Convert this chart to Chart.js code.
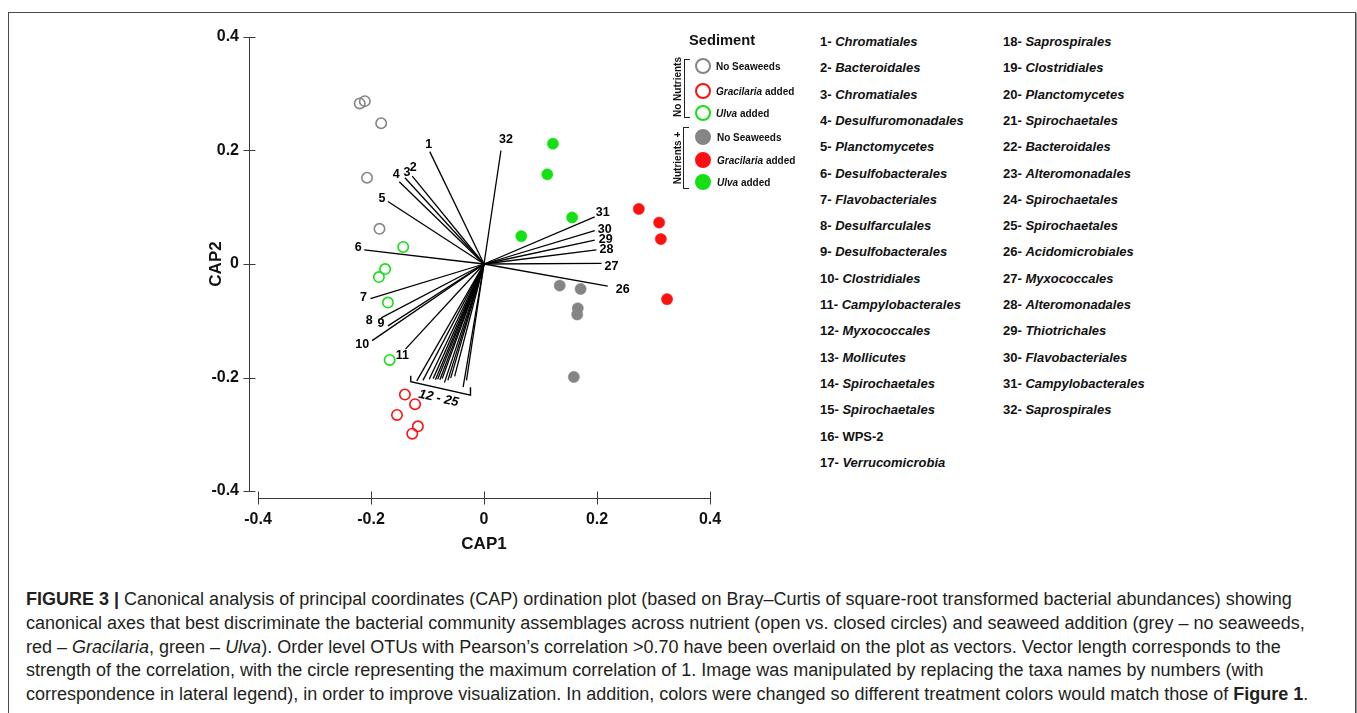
<!DOCTYPE html>
<html>
<head>
<meta charset="utf-8">
<script src="https://cdn.jsdelivr.net/npm/chart.js@4/dist/chart.umd.min.js"></script>
<style>
html,body{margin:0;padding:0;background:#fff;width:1357px;height:713px;overflow:hidden;font-family:"Liberation Sans",Arial,sans-serif;color:#111;}
#frame{position:absolute;left:8px;top:12px;width:1346px;height:800px;border:1px solid #4a4a4a;box-shadow:1px 1px 1px #999;}
#wrap{position:absolute;left:0;top:0;width:780px;height:560px;}
.abs{position:absolute;white-space:nowrap;}
.vc{transform:translateY(-50%);}
.taxa{font-weight:bold;font-size:13px;}
.taxa i{font-style:italic;}
.leg{font-weight:bold;font-size:10px;}
.circ{position:absolute;width:12px;height:12px;border-radius:50%;border:2px solid;transform:translate(-50%,-50%);}
.cap{font-size:18px;color:#231f20;left:26px;}
.brk{position:absolute;border:1.5px solid #222;border-right:none;width:5px;}
</style>
</head>
<body>
<div id="frame"></div>
<div id="wrap"><canvas id="c" width="780" height="560"></canvas></div>
<div id="legend"></div>
<div id="taxa"></div>
<div id="caption"></div>
<script>
// ---------- DATA ----------
const xTicks = [-0.4, -0.2, 0, 0.2, 0.4];
const yTicks = [-0.4, -0.2, 0, 0.2, 0.4];

// sample scores [CAP1, CAP2]
const noNutNoSeaweed = [[-0.220,0.283],[-0.211,0.287],[-0.182,0.248],[-0.207,0.152],[-0.185,0.062]];
const noNutGracilaria = [[-0.140,-0.230],[-0.122,-0.247],[-0.154,-0.266],[-0.117,-0.286],[-0.127,-0.299]];
const noNutUlva = [[-0.143,0.030],[-0.175,-0.009],[-0.186,-0.023],[-0.170,-0.068],[-0.167,-0.169]];
const nutNoSeaweed = [[0.134,-0.038],[0.171,-0.044],[0.166,-0.078],[0.165,-0.089],[0.159,-0.199]];
const nutGracilaria = [[0.274,0.097],[0.310,0.073],[0.313,0.044],[0.324,-0.062]];
const nutUlva = [[0.122,0.212],[0.112,0.158],[0.156,0.082],[0.066,0.049]];

// vectors (taxa correlations)
const vectorIds = ['1','2','3','4','5','6','7','8','9','10','11','12','13','14','15','16','17','18','19','20','21','22','23','24','25','26','27','28','29','30','31','32'];
const vectorX = [-0.096,-0.127,-0.140,-0.150,-0.170,-0.212,-0.201,-0.182,-0.170,-0.198,-0.139,-0.119,-0.108,-0.097,-0.090,-0.086,-0.082,-0.078,-0.074,-0.070,-0.064,-0.059,-0.052,-0.037,-0.031,0.219,0.208,0.199,0.196,0.196,0.196,0.030];
const vectorY = [0.198,0.155,0.152,0.145,0.110,0.025,-0.061,-0.095,-0.109,-0.135,-0.150,-0.206,-0.205,-0.203,-0.202,-0.204,-0.203,-0.204,-0.202,-0.209,-0.205,-0.201,-0.198,-0.217,-0.205,-0.039,0.001,0.025,0.042,0.059,0.083,0.200];
const groupedLabel = '12 - 25';
const groupedFrom = 12, groupedTo = 25;

const taxaNames = ['Chromatiales','Bacteroidales','Chromatiales','Desulfuromonadales','Planctomycetes','Desulfobacterales','Flavobacteriales','Desulfarculales','Desulfobacterales','Clostridiales','Campylobacterales','Myxococcales','Mollicutes','Spirochaetales','Spirochaetales','WPS-2','Verrucomicrobia','Saprospirales','Clostridiales','Planctomycetes','Spirochaetales','Bacteroidales','Alteromonadales','Spirochaetales','Spirochaetales','Acidomicrobiales','Myxococcales','Alteromonadales','Thiotrichales','Flavobacteriales','Campylobacterales','Saprospirales'];
const uprightNames = ['WPS-2'];

const legendGroups = ['No Nutrients', 'Nutrients +'];
const legendItems = [['No Seaweeds',''],['Gracilaria',' added'],['Ulva',' added'],['No Seaweeds',''],['Gracilaria',' added'],['Ulva',' added']];

// ---------- STYLE (not data) ----------
const GREY = '#858585', RED = '#ff1010', GREEN = '#14e014';
const labelNudge = {1:[-1,-7],2:[1,-8],3:[2,-5],4:[-3,-7],5:[-6,-3],6:[-6,-2],7:[-7,-1],8:[-12,3],9:[-7,-2],10:[-10,4],11:[-3,6],26:[15,3],27:[10,3],28:[10,0],29:[11,-1],30:[10,-1],31:[8,-4],32:[5,-11]};
const FONT = '"Liberation Sans", Arial, sans-serif';

const toPts = arr => arr.map(p => ({x: p[0], y: p[1]}));
function pointSet(label, arr, color, filled) {
  return {type:'scatter', label, data: toPts(arr), order: 0,
    pointRadius: filled ? 5.6 : 5.2, pointHoverRadius: 5.6,
    pointBackgroundColor: filled ? color : 'rgba(255,255,255,0)',
    pointBorderColor: color, pointBorderWidth: filled ? 0.5 : 1.6};
}
const datasets = [
  pointSet('No Nutrients – No Seaweeds', noNutNoSeaweed, GREY, false),
  pointSet('No Nutrients – Gracilaria added', noNutGracilaria, RED, false),
  pointSet('No Nutrients – Ulva added', noNutUlva, GREEN, false),
  pointSet('Nutrients + – No Seaweeds', nutNoSeaweed, GREY, true),
  pointSet('Nutrients + – Gracilaria added', nutGracilaria, RED, true),
  pointSet('Nutrients + – Ulva added', nutUlva, GREEN, true)
];
vectorIds.forEach((id, i) => {
  datasets.push({type:'line', label:'vector ' + id, order: 1,
    data: [{x:0, y:0}, {x: vectorX[i], y: vectorY[i]}],
    borderColor:'#000', borderWidth:1.3, pointRadius:0, fill:false, tension:0});
});

const decor = {
  id: 'decor',
  afterDraw(chart) {
    const {ctx, chartArea: ca, scales: {x, y}} = chart;
    ctx.save();
    ctx.strokeStyle = '#3a3a3a'; ctx.lineWidth = 1;
    ctx.beginPath();
    const ax = Math.round(ca.left - 9) + 0.5;
    ctx.moveTo(ax, y.getPixelForValue(yTicks[yTicks.length - 1]));
    ctx.lineTo(ax, y.getPixelForValue(yTicks[0]));
    yTicks.forEach(v => { const p = Math.round(y.getPixelForValue(v)) + 0.5; ctx.moveTo(ax - 6, p); ctx.lineTo(ax + 6, p); });
    const ay = Math.round(ca.bottom + 7) + 0.5;
    ctx.moveTo(x.getPixelForValue(xTicks[0]), ay);
    ctx.lineTo(x.getPixelForValue(xTicks[xTicks.length - 1]), ay);
    xTicks.forEach(v => { const p = Math.round(x.getPixelForValue(v)) + 0.5; ctx.moveTo(p, ay - 7); ctx.lineTo(p, ay + 6); });
    ctx.stroke();

    // vector labels
    ctx.fillStyle = '#000';
    ctx.font = 'bold 12.5px ' + FONT;
    ctx.textAlign = 'center'; ctx.textBaseline = 'middle';
    vectorIds.forEach((id, i) => {
      const n = i + 1;
      if (n >= groupedFrom && n <= groupedTo) return;
      const nd = labelNudge[id] || [0, 0];
      ctx.fillText(id, x.getPixelForValue(vectorX[i]) + nd[0], y.getPixelForValue(vectorY[i]) + nd[1]);
    });

    // bracket for grouped vectors 12-25
    const gi = [];
    for (let n = groupedFrom; n <= groupedTo; n++) gi.push(n - 1);
    const ex = gi.map(i => x.getPixelForValue(vectorX[i]));
    const eyy = gi.map(i => y.getPixelForValue(vectorY[i]));
    const x0 = Math.min(...ex) - 6, x1 = Math.max(...ex) + 4;
    const y0 = Math.max(...eyy) - 5.5, y1 = y0 + 13.5;
    ctx.strokeStyle = '#000'; ctx.lineWidth = 1.4;
    ctx.beginPath();
    ctx.moveTo(x0, y0 - 6); ctx.lineTo(x0, y0); ctx.lineTo(x1, y1); ctx.lineTo(x1, y1 - 8);
    ctx.stroke();
    const ang = Math.atan2(y1 - y0, x1 - x0);
    ctx.save();
    ctx.translate((x0 + x1) / 2 - 2, (y0 + y1) / 2 + 10);
    ctx.rotate(ang);
    ctx.font = 'italic bold 13px ' + FONT;
    ctx.fillText(groupedLabel, 0, 0);
    ctx.restore();
    ctx.restore();
  }
};

const tickFont = {family: FONT, size: 16, weight: 'bold'};
const fmt = v => (Math.abs(v) < 1e-9 ? '0' : Number(v).toFixed(1));

new Chart(document.getElementById('c'), {
  data: {datasets},
  options: {
    responsive: false, animation: false, devicePixelRatio: 1,
    layout: {padding: {left: 0, top: 37, right: 70, bottom: 0}},
    plugins: {legend: {display: false}, tooltip: {enabled: false}},
    scales: {
      x: {type: 'linear', min: xTicks[0], max: xTicks[xTicks.length - 1],
        afterBuildTicks: s => { s.ticks = xTicks.map(v => ({value: v})); },
        afterFit: s => { s.height = 69; },
        grid: {display: false, drawTicks: false}, border: {display: false},
        ticks: {callback: fmt, font: tickFont, color: '#111', padding: 19, maxRotation: 0, autoSkip: false},
        title: {display: true, text: 'CAP1', color: '#111', font: {family: FONT, size: 17, weight: 'bold'}, padding: {top: 0, bottom: 5}}},
      y: {type: 'linear', min: yTicks[0], max: yTicks[yTicks.length - 1],
        afterBuildTicks: s => { s.ticks = yTicks.map(v => ({value: v})); },
        afterFit: s => { s.width = 258; },
        grid: {display: false, drawTicks: false}, border: {display: false},
        ticks: {callback: fmt, font: tickFont, color: '#111', padding: 19, autoSkip: false},
        title: {display: true, text: 'CAP2', color: '#111', font: {family: FONT, size: 17, weight: 'bold'}, padding: {top: 206, bottom: 0}}}
    }
  },
  plugins: [decor]
});

// ---------- legend (HTML) ----------
(function () {
  const L = document.getElementById('legend');
  let h = '<div class="abs" style="left:722px;top:40px;transform:translate(-50%,-50%);font-weight:bold;font-size:14.7px;">Sediment</div>';
  const ys = [66, 90.7, 112.7, 137.3, 160, 181.7];
  const cols = [GREY, RED, GREEN, GREY, RED, GREEN];
  legendItems.forEach((it, i) => {
    const filled = i >= 3;
    h += '<div class="circ" style="left:703px;top:' + ys[i] + 'px;border-color:' + cols[i] + ';background:' + (filled ? cols[i] : 'transparent') + ';"></div>';
    const txt = it[1] ? '<i>' + it[0] + '</i>' + it[1] : it[0];
    h += '<div class="abs leg vc" style="left:' + (i >= 3 ? 717 : 716) + 'px;top:' + ys[i] + 'px;">' + txt + '</div>';
  });
  h += '<div class="abs leg" style="left:677px;top:87px;transform:translate(-50%,-50%) rotate(-90deg);">' + legendGroups[0] + '</div>';
  h += '<div class="abs leg" style="left:677px;top:158px;transform:translate(-50%,-50%) rotate(-90deg);">' + legendGroups[1] + '</div>';
  h += '<div class="brk" style="left:684px;top:59px;height:57px;"></div>';
  h += '<div class="brk" style="left:683px;top:127px;height:60px;"></div>';
  L.innerHTML = h;
})();

// ---------- taxa key (HTML) ----------
(function () {
  const T = document.getElementById('taxa');
  let h = '';
  taxaNames.forEach((nm, i) => {
    const col = i < 17 ? 0 : 1;
    const row = col ? i - 17 : i;
    const left = col ? 1003 : 820;
    const top = 41 + row * 26.3;
    const name = uprightNames.includes(nm) ? nm : '<i>' + nm + '</i>';
    h += '<div class="abs taxa vc" style="left:' + left + 'px;top:' + top + 'px;">' + (i + 1) + '- ' + name + '</div>';
  });
  T.innerHTML = h;
})();

// ---------- caption ----------
(function () {
  const lines = [
    '<b>FIGURE 3 |</b> Canonical analysis of principal coordinates (CAP) ordination plot (based on Bray–Curtis of square-root transformed bacterial abundances) showing',
    'canonical axes that best discriminate the bacterial community assemblages across nutrient (open vs. closed circles) and seaweed addition (grey – no seaweeds,',
    'red – <i>Gracilaria</i>, green – <i>Ulva</i>). Order level OTUs with Pearson’s correlation &gt;0.70 have been overlaid on the plot as vectors. Vector length corresponds to the',
    'strength of the correlation, with the circle representing the maximum correlation of 1. Image was manipulated by replacing the taxa names by numbers (with',
    'correspondence in lateral legend), in order to improve visualization. In addition, colors were changed so different treatment colors would match those of <b>Figure 1</b>.'
  ];
  const C = document.getElementById('caption');
  C.innerHTML = lines.map((l, i) => '<div class="abs cap vc" style="top:' + (599 + i * 23.8) + 'px;">' + l + '</div>').join('');
})();
</script>
</body>
</html>
